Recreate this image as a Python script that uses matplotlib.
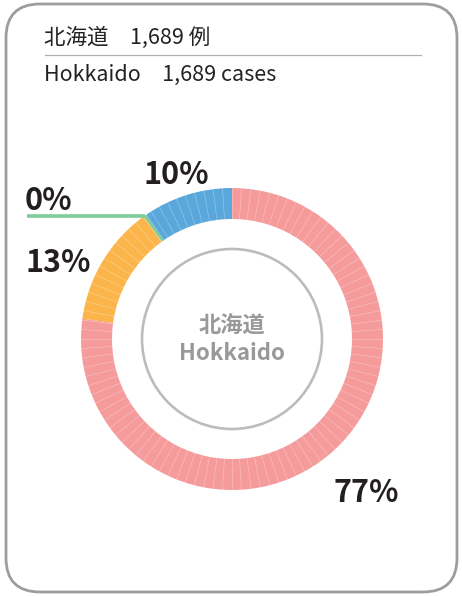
import numpy as np
import matplotlib
matplotlib.use("Agg")
import matplotlib.pyplot as plt
from matplotlib.patches import FancyBboxPatch, Circle

plt.rcParams['font.family'] = ['Noto Sans CJK JP', 'DejaVu Sans']

# ---- data ----
categories = ["A", "B", "C", "D"]
counts = [1303, 218, 6, 162]
pct_labels = ["77%", "13%", "0%", "10%"]
colors = ["#F59B9C", "#FBB54A", "#7FCB9B", "#5AA7DC"]
title_jp = "北海道\u30001,689 例"
title_en = "Hokkaido\u30001,689 cases"
center_jp = "北海道"
center_en = "Hokkaido"

W, H = 462, 596
fig = plt.figure(figsize=(W / 100, H / 100), dpi=100)
ax = fig.add_axes([0, 0, 1, 1])
ax.set_xlim(0, W)
ax.set_ylim(0, H)
ax.set_aspect('equal')
ax.axis('off')

def py(y):  # pixel y (top-down) -> data y
    return H - y

# frame
frame = FancyBboxPatch((6, py(592)), 451, 588, boxstyle="round,pad=0,rounding_size=34",
                       fill=False, edgecolor="#9d9d9f", linewidth=2.0)
ax.add_patch(frame)

# titles
ax.text(44, py(38), title_jp, fontsize=15.5, color="#222222", va='center', ha='left')
ax.plot([45, 421], [py(55), py(55)], color="#b0b0b0", lw=0.9)
ax.text(44, py(75), title_en, fontsize=15.5, color="#222222", va='center', ha='left')

# donut
cx, cy, R, wd = 232, py(339), 151, 31
wedges, _ = ax.pie(counts, colors=colors, startangle=90, counterclock=False,
                   radius=R, center=(cx, cy), wedgeprops=dict(width=wd, linewidth=0),
                   frame=True)
ax.set_xlim(0, W)
ax.set_ylim(0, H)
ax.axis('off')

# thin separators every 1%
for k in range(100):
    a = np.deg2rad(90 - 3.6 * k)
    ax.plot([cx + (R - wd) * np.cos(a), cx + R * np.cos(a)],
            [cy + (R - wd) * np.sin(a), cy + R * np.sin(a)],
            color="white", lw=0.4, alpha=0.4)

# inner circle
ax.add_patch(Circle((cx, cy), 90, fill=False, edgecolor="#bcbcbe", linewidth=1.9))
ax.text(cx, py(326), center_jp, fontsize=16, fontweight='bold', color="#999999",
        ha='center', va='center')
ax.text(cx, py(354), center_en, fontsize=16, fontweight='bold', color="#999999",
        ha='center', va='center')

# leader line for the tiny segment
total = sum(counts)
start = sum(counts[:2]) / total
mid = (start + counts[2] / total / 2) * 360
a = np.deg2rad(90 - mid)
ex, ey = cx + R * np.cos(a), cy + R * np.sin(a)
ax.plot([27, ex], [ey, ey], color=colors[2], lw=2.6, solid_capstyle='butt')

# percentage labels
lab_kw = dict(fontsize=22, fontweight='bold', color="#231f20", va='center')
ax.text(366, py(493), pct_labels[0], ha='center', **lab_kw)
ax.text(25, py(263), pct_labels[1], ha='left', **lab_kw)
ax.text(25, py(201), pct_labels[2], ha='left', **lab_kw)
ax.text(176, py(175), pct_labels[3], ha='center', **lab_kw)

fig.savefig("out.png", dpi=100)
